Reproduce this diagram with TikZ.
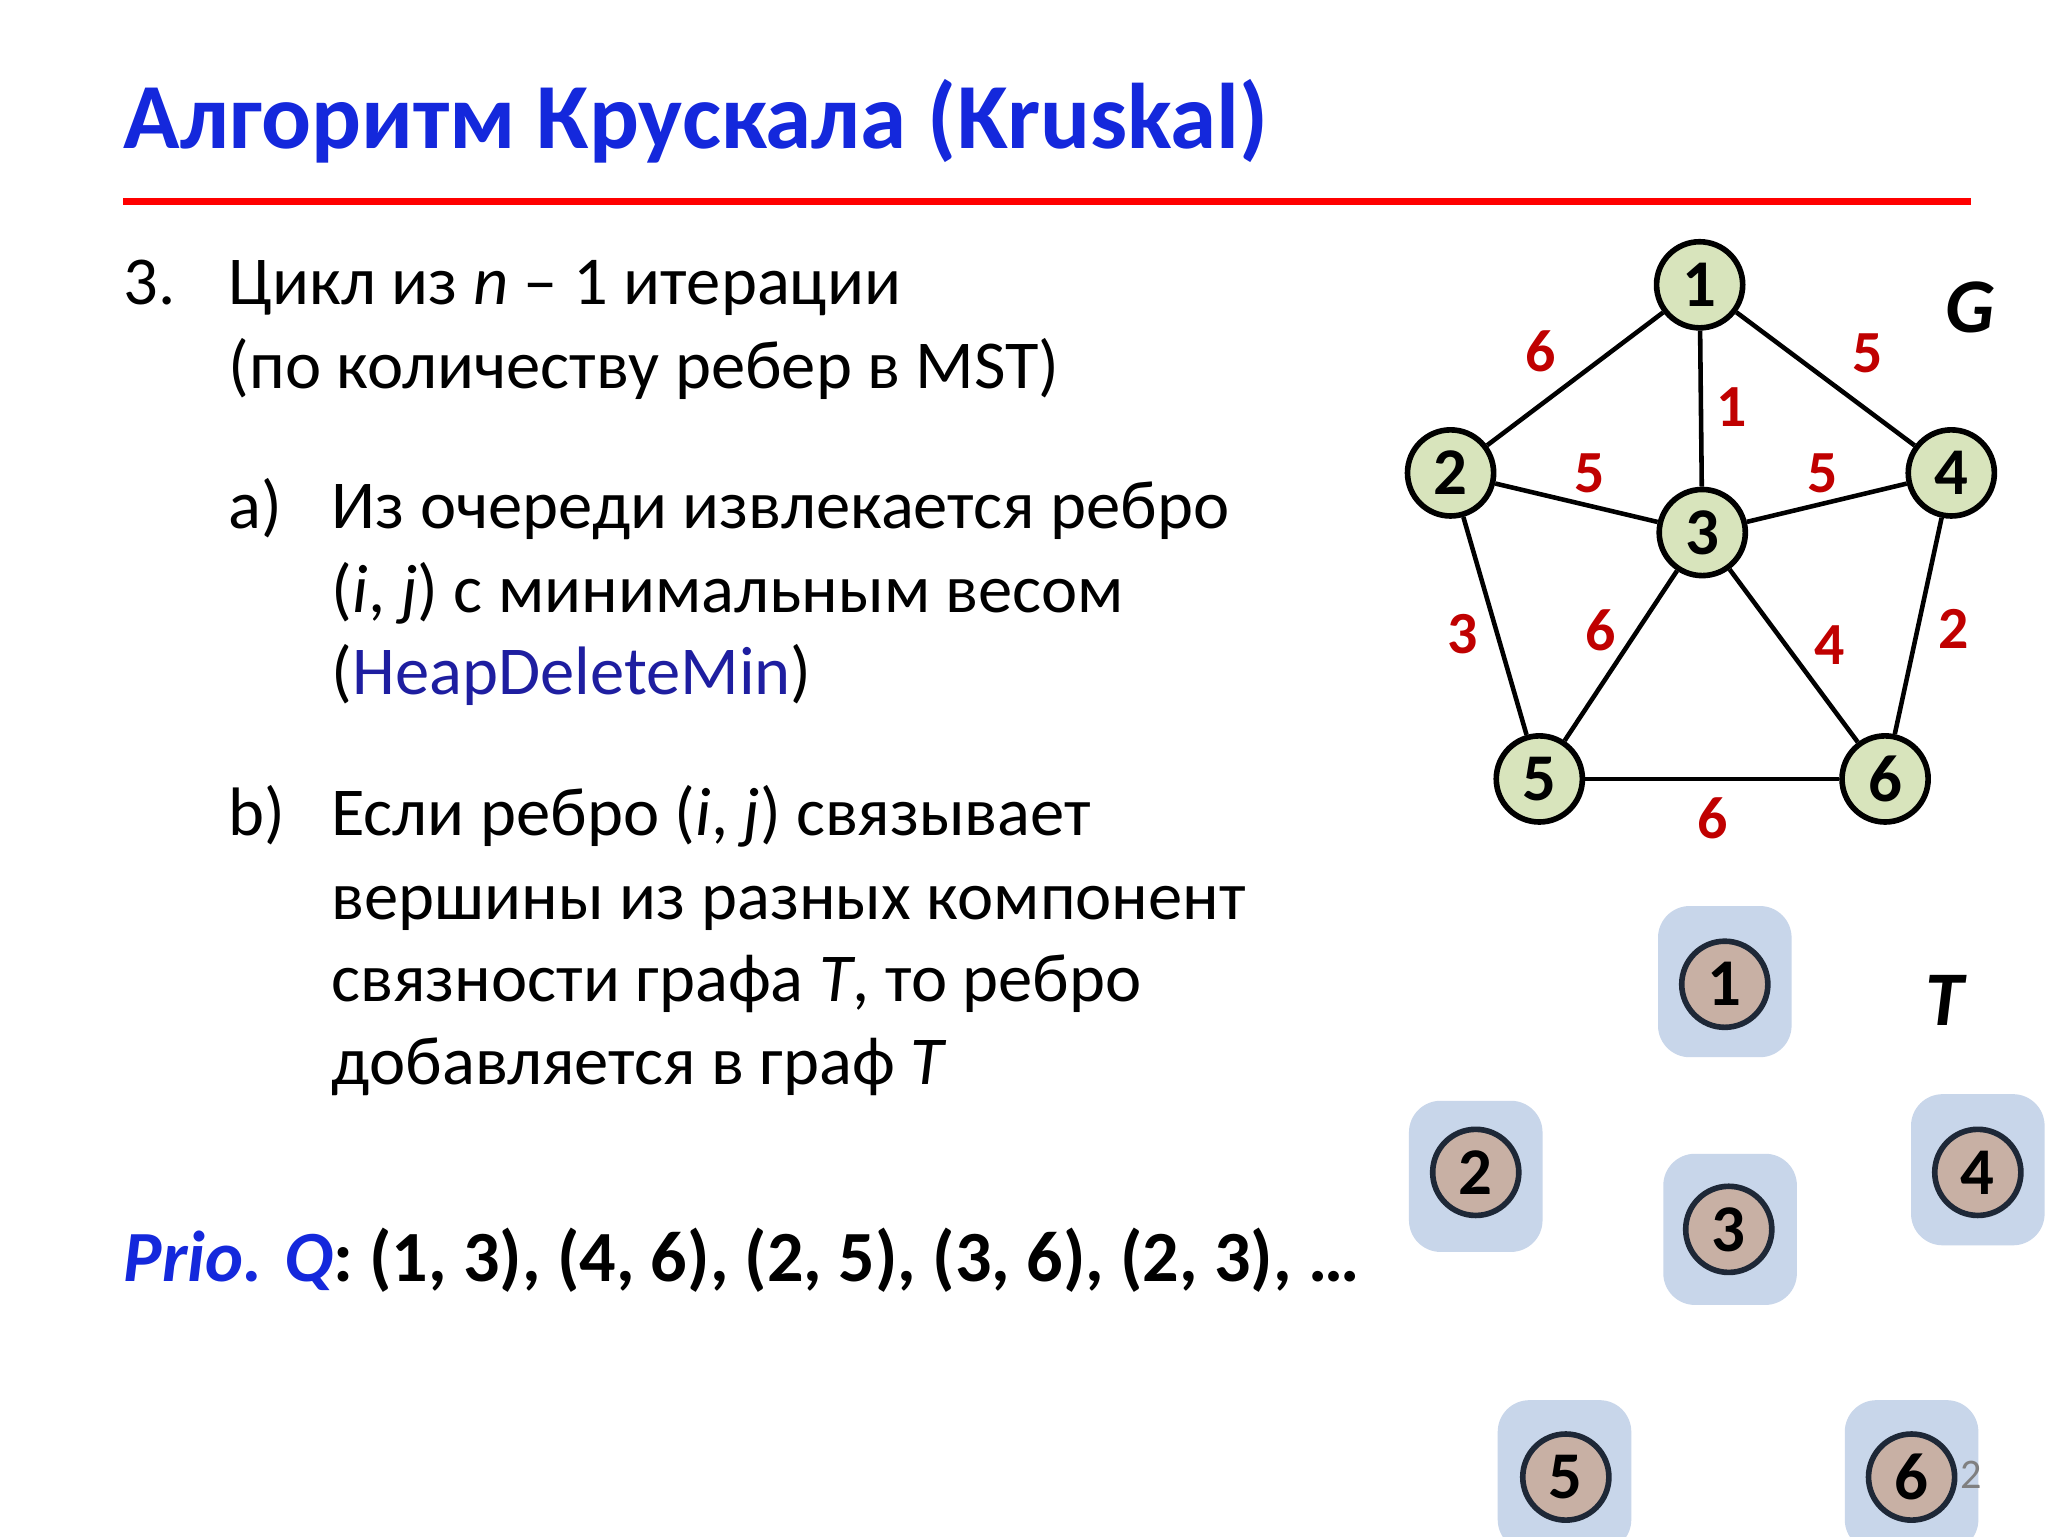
\documentclass[tikz,border=0pt]{standalone}
\usepackage{fontspec}
\setmainfont{Carlito}
\begin{document}
\begin{tikzpicture}[x=0.01325cm,y=-0.01325cm,
  gnode/.style={circle,draw=black,line width=1.6pt,fill={rgb,255:red,216;green,228;blue,188},minimum size=24.5pt,inner sep=0pt,font=\fontsize{19}{19}\selectfont\bfseries},
  tnode/.style={circle,draw={rgb,255:red,30;green,40;blue,55},line width=1.6pt,fill={rgb,255:red,200;green,176;blue,164},minimum size=24.5pt,inner sep=0pt,font=\fontsize{19}{19}\selectfont\bfseries},
  tbox/.style={rounded corners=9pt,fill={rgb,255:red,200;green,214;blue,234},minimum width=38pt,minimum height=43pt},
  wlab/.style={text={rgb,255:red,192;green,0;blue,0},font=\fontsize{17}{17}\selectfont\bfseries},
  edge/.style={line width=1.3pt},
  body/.style={anchor=base west,font=\fontsize{19.5}{23}\selectfont,inner sep=0pt}]
\useasboundingbox (0,0) rectangle (1546,1160);
\fill[white] (0,0) rectangle (1546,1160);
\definecolor{tblue}{RGB}{20,40,220}
\definecolor{hblue}{RGB}{30,30,160}
\node[anchor=base west,inner sep=0pt,text=tblue,font=\fontsize{26.5}{28}\selectfont\bfseries] (title) at (93,112) {Алгоритм Крускала (Kruskal)};
\draw[red,line width=1.9pt] (93,152) -- (1488,152);
\node[body] (l1a) at (93,230) {3.};
\node[body] (l1) at (172,230) {Цикл из \textit{n} – 1 итерации};
\node[body] (l2) at (172,293) {(по количеству ребер в MST)};
\node[body] (la) at (172,399) {a)};
\node[body] (l3) at (250,399) {Из очереди извлекается ребро};
\node[body] (l4) at (250,462) {(\textit{i}, \textit{j}) с минимальным весом};
\node[body] (l5) at (250,524) {(\textcolor{hblue}{HeapDeleteMin})};
\node[body] (lb) at (172,631) {b)};
\node[body] (l6) at (250,631) {Если ребро (\textit{i}, \textit{j}) связывает};
\node[body] (l7) at (250,694) {вершины из разных компонент};
\node[body] (l8) at (250,756) {связности графа \textit{T}, то ребро};
\node[body] (l9) at (250,819) {добавляется в граф \textit{T}};
\node[body,font=\fontsize{20.5}{23}\selectfont] (pq) at (93,967) {\bfseries\textcolor{tblue}{\itshape Prio. Q}: (1, 3), (4, 6), (2, 5), (3, 6), (2, 3), …};
% graph G
\node[gnode] (g1) at (1283,215) {1};
\node[gnode] (g2) at (1095,357) {2};
\node[gnode] (g3) at (1285,402) {3};
\node[gnode] (g4) at (1473,357) {4};
\node[gnode] (g5) at (1162,588) {5};
\node[gnode] (g6) at (1423,588) {6};
\draw[edge] (g1)--(g2); \draw[edge] (g1)--(g4); \draw[edge] (g1)--(g3);
\draw[edge] (g2)--(g3); \draw[edge] (g3)--(g4); \draw[edge] (g2)--(g5);
\draw[edge] (g3)--(g5); \draw[edge] (g3)--(g6); \draw[edge] (g4)--(g6);
\draw[edge] (g5)--(g6);
\node[wlab] (w12) at (1163,265) {6};
\node[wlab] (w14) at (1410,267) {5};
\node[wlab] (w13) at (1307,307) {1};
\node[wlab] (w23) at (1200,357) {5};
\node[wlab] (w34) at (1376,357) {5};
\node[wlab] (w25) at (1104,479) {3};
\node[wlab] (w35) at (1208,476) {6};
\node[wlab] (w36) at (1381,487) {4};
\node[wlab] (w46) at (1475,475) {2};
\node[wlab] (w56) at (1293,618) {6};
\node[font=\fontsize{22}{22}\selectfont\bfseries\itshape] (G) at (1487,232) {G};
% graph T
\node[tbox] (b1) at (1302,741) {};
\node[tbox] (b2) at (1114,888) {};
\node[tbox] (b3) at (1306,928) {};
\node[tbox] (b4) at (1493,883) {};
\node[tbox] (b5) at (1181,1114) {};
\node[tbox] (b6) at (1443,1114) {};
\node[tnode] (t1) at (1302,743) {1};
\node[tnode] (t2) at (1114,885) {2};
\node[tnode] (t3) at (1305,928) {3};
\node[tnode] (t4) at (1493,885) {4};
\node[tnode] (t5) at (1182,1115) {5};
\node[tnode] (t6) at (1443,1115) {6};
\node[font=\fontsize{22}{22}\selectfont\bfseries\itshape] (T) at (1468,755) {T};
\node[text=gray,font=\fontsize{12}{12}\selectfont] (pg) at (1488,1113) {2};
\end{tikzpicture}
\end{document}
